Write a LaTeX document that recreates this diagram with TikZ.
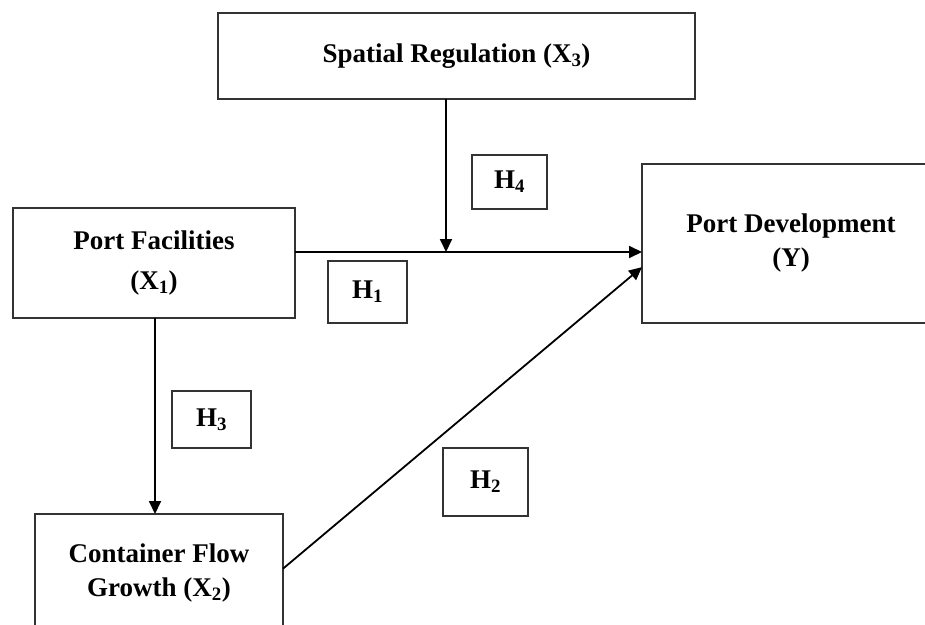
\documentclass[tikz,border=0pt]{standalone}
\usepackage{fontspec}
\setmainfont{Liberation Serif}
\usetikzlibrary{arrows.meta}

\begin{document}
\begin{tikzpicture}[x=1pt, y=-1pt,
    box/.style={draw=black!80, line width=1.8pt, inner sep=0pt, outer sep=0pt,
        align=center, font=\bfseries\fontsize{27}{34}\selectfont},
    hbox/.style={draw=black!80, line width=1.8pt, inner sep=0pt, outer sep=0pt,
        font=\bfseries\fontsize{27}{34}\selectfont},
    link/.style={line width=1.8pt, -{Triangle[length=13pt, width=12pt]}}]
    \useasboundingbox[fill=white] (0,0) rectangle (925,624);

    % Variabel-variabel
    \node[box, minimum width=477pt, minimum height=86pt] (x3) at (456.5,56)
        {Spatial Regulation (X\textsubscript{3})};
    \node[box, minimum width=282pt, minimum height=110pt] (x1) at (154,263)
        {Port Facilities\\[6pt](X\textsubscript{1})};
    \node[box, minimum width=298pt, minimum height=159pt] (y) at (791,243.5)
        {Port Development\\(Y)};
    \node[box, minimum width=248pt, minimum height=118pt] (x2) at (159,573)
        {Container Flow\\Growth (X\textsubscript{2})};

    % Hipotesis
    \node[hbox, minimum width=75pt, minimum height=54pt] (h4) at (509.5,182) {H\textsubscript{4}};
    \node[hbox, minimum width=79pt, minimum height=62pt] (h1) at (367.5,292) {H\textsubscript{1}};
    \node[hbox, minimum width=79pt, minimum height=57pt] (h3) at (211.5,419.5) {H\textsubscript{3}};
    \node[hbox, minimum width=85pt, minimum height=68pt] (h2) at (485.5,482) {H\textsubscript{2}};

    % Panah
    \coordinate (mod) at (446,252);
    \draw[link] (x1.east |- mod) -- (y.west |- mod);
    \draw[link] (x3.south -| mod) -- (mod);
    \draw[link] (x1.south -| 155,0) -- (x2.north -| 155,0);
    \draw[link] (x2.2) -- (y.189);
\end{tikzpicture}
\end{document}
